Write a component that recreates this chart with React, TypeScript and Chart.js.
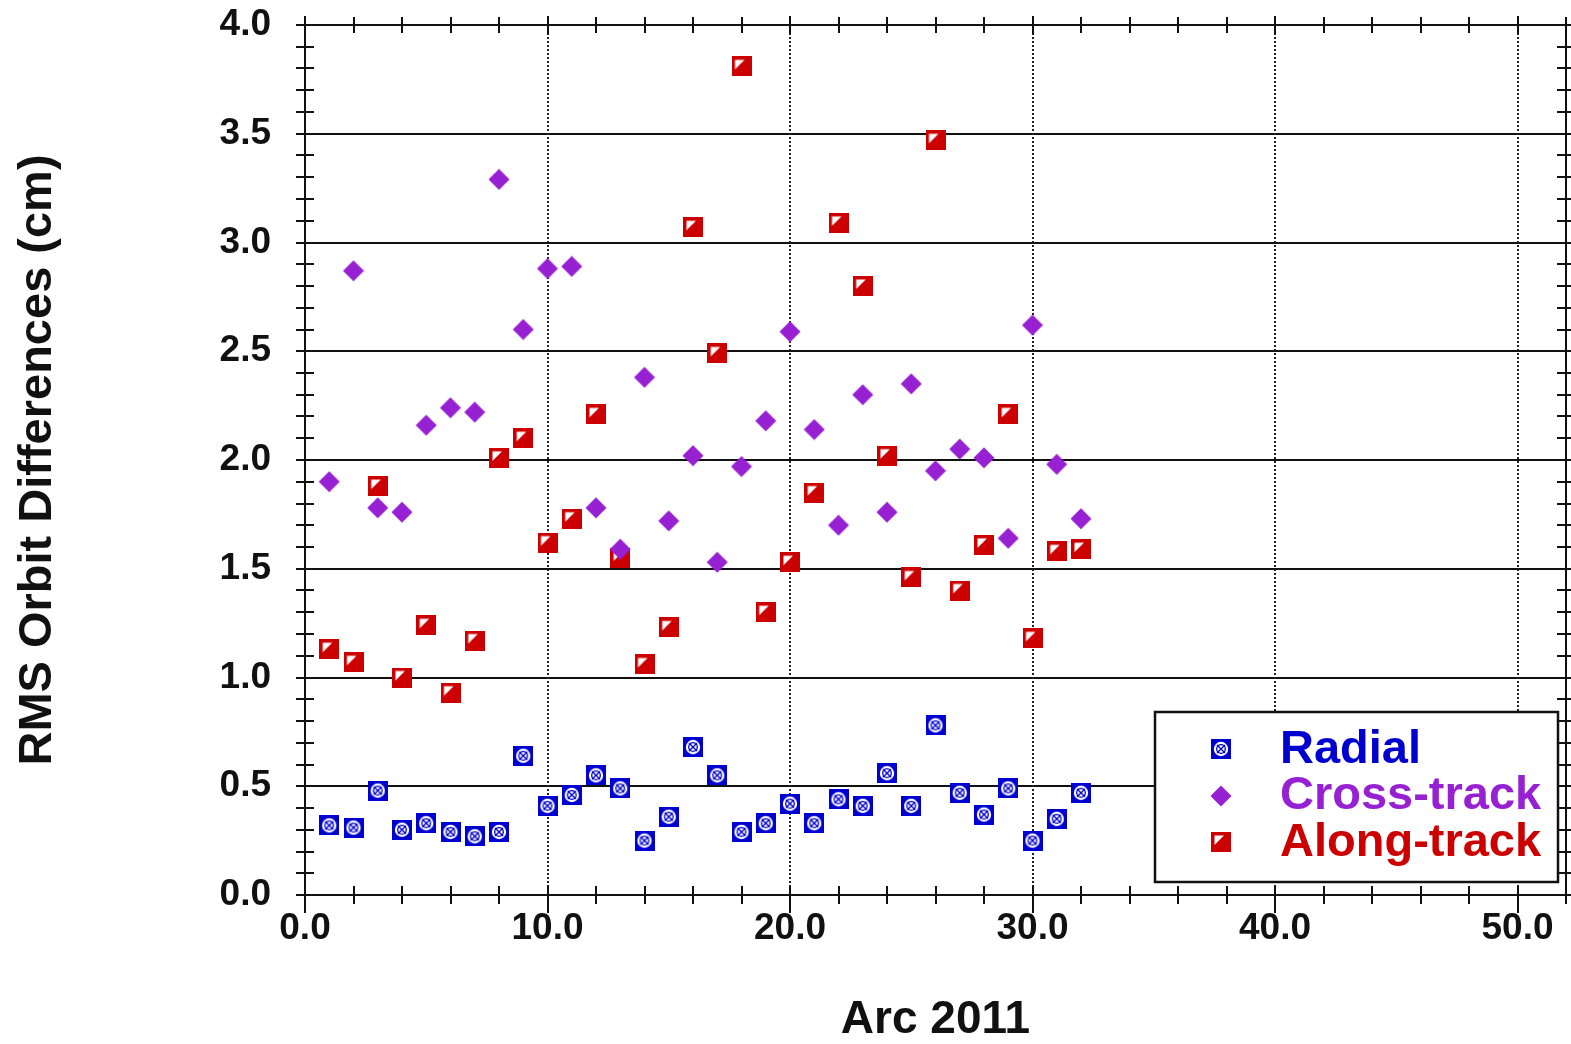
import React, { useEffect, useRef } from "react";
import { Chart, registerables } from "chart.js";

Chart.register(...registerables);

const arcs = [1, 2, 3, 4, 5, 6, 7, 8, 9, 10, 11, 12, 13, 14, 15, 16, 17, 18, 19, 20, 21, 22, 23, 24, 25, 26, 27, 28, 29, 30, 31, 32];
const radial = [0.32, 0.31, 0.48, 0.30, 0.33, 0.29, 0.27, 0.29, 0.64, 0.41, 0.46, 0.55, 0.49, 0.25, 0.36, 0.68, 0.55, 0.29, 0.33, 0.42, 0.33, 0.44, 0.41, 0.56, 0.41, 0.78, 0.47, 0.37, 0.49, 0.25, 0.35, 0.47];
const crossTrack = [1.90, 2.87, 1.78, 1.76, 2.16, 2.24, 2.22, 3.29, 2.60, 2.88, 2.89, 1.78, 1.59, 2.38, 1.72, 2.02, 1.53, 1.97, 2.18, 2.59, 2.14, 1.70, 2.30, 1.76, 2.35, 1.95, 2.05, 2.01, 1.64, 2.62, 1.98, 1.73];
const alongTrack = [1.13, 1.07, 1.88, 1.00, 1.24, 0.93, 1.17, 2.01, 2.10, 1.62, 1.73, 2.21, 1.55, 1.06, 1.23, 3.07, 2.49, 3.81, 1.30, 1.53, 1.85, 3.09, 2.80, 2.02, 1.46, 3.47, 1.40, 1.61, 2.21, 1.18, 1.58, 1.59];

const seriesLabels = ["Radial", "Cross-track", "Along-track"];
const xTicks = [0, 10, 20, 30, 40, 50];
const yTicks = [0, 0.5, 1.0, 1.5, 2.0, 2.5, 3.0, 3.5, 4.0];
const X_MIN = 0;
const X_MAX = 52;
const Y_MIN = 0;
const Y_MAX = 4;

const BLUE = "#0000d0";
const PURPLE = "#9620d2";
const RED = "#cc0000";
const INK = "#111111";
const FONT = '"Liberation Sans", Arial, Helvetica, sans-serif';

function makeRadial(color: string) {
  const s = 20;
  const c = document.createElement("canvas");
  c.width = s;
  c.height = s;
  const g = c.getContext("2d")!;
  g.fillStyle = color;
  g.fillRect(0, 0, s, s);
  g.fillStyle = "#ffffff";
  g.beginPath();
  g.arc(s / 2, s / 2, 7.2, 0, Math.PI * 2);
  g.fill();
  g.strokeStyle = color;
  g.lineWidth = 1.3;
  g.beginPath();
  g.arc(s / 2, s / 2, 4.3, 0, Math.PI * 2);
  g.stroke();
  g.beginPath();
  g.moveTo(6, 6);
  g.lineTo(14, 14);
  g.moveTo(14, 6);
  g.lineTo(6, 14);
  g.stroke();
  return c;
}

function makeDiamond(color: string) {
  const s = 22;
  const c = document.createElement("canvas");
  c.width = s;
  c.height = s;
  const g = c.getContext("2d")!;
  g.fillStyle = color;
  g.beginPath();
  g.moveTo(s / 2, 0.5);
  g.lineTo(s - 0.5, s / 2);
  g.lineTo(s / 2, s - 0.5);
  g.lineTo(0.5, s / 2);
  g.closePath();
  g.fill();
  return c;
}

function makeAlong(color: string) {
  const s = 20;
  const c = document.createElement("canvas");
  c.width = s;
  c.height = s;
  const g = c.getContext("2d")!;
  g.fillStyle = color;
  g.fillRect(0, 0, s, s);
  g.fillStyle = "#ffffff";
  g.beginPath();
  g.moveTo(3.5, 3.5);
  g.lineTo(13, 3.5);
  g.lineTo(3.5, 13);
  g.closePath();
  g.fill();
  return c;
}

const framePlugin = {
  id: "framePlugin",
  beforeDatasetsDraw(chart: any) {
    const { ctx, chartArea } = chart;
    const { left, right, top, bottom } = chartArea;
    const xs = chart.scales.x;
    const ys = chart.scales.y;
    const line = (x1: number, y1: number, x2: number, y2: number) => {
      ctx.beginPath();
      ctx.moveTo(x1, y1);
      ctx.lineTo(x2, y2);
      ctx.stroke();
    };
    ctx.save();
    // horizontal solid grid
    ctx.strokeStyle = INK;
    ctx.lineWidth = 2;
    for (const v of yTicks) {
      if (v <= Y_MIN || v >= Y_MAX) continue;
      const py = Math.round(ys.getPixelForValue(v));
      line(left, py, right, py);
    }
    // vertical dotted grid
    ctx.strokeStyle = "#222222";
    ctx.lineWidth = 2;
    ctx.setLineDash([2, 2]);
    for (const v of xTicks) {
      if (v <= X_MIN || v >= X_MAX) continue;
      const px = Math.round(xs.getPixelForValue(v));
      line(px, top, px, bottom);
    }
    ctx.setLineDash([]);
    // frame
    ctx.strokeStyle = INK;
    ctx.lineWidth = 2;
    ctx.strokeRect(left, top, right - left, bottom - top);
    // x ticks (bottom & top)
    for (let v = X_MIN; v <= X_MAX + 1e-9; v += 2) {
      const px = Math.round(xs.getPixelForValue(v));
      const major = Math.abs(v % 10) < 1e-9;
      if (major) {
        line(px, bottom - 9, px, bottom + 18);
        line(px, top - 9, px, top + 9);
      } else {
        line(px, bottom - 9, px, bottom + 9);
        line(px, top - 8, px, top + 8);
      }
    }
    // y ticks (left & right)
    for (let i = 0; i <= 40; i++) {
      const v = Y_MIN + i * 0.1;
      const py = Math.round(ys.getPixelForValue(v));
      line(left - 9, py, left + 9, py);
      line(right - 9, py, right + 9, py);
    }
    ctx.restore();
  },
};

const legendPlugin = {
  id: "boxLegend",
  afterDatasetsDraw(chart: any) {
    const { ctx, chartArea } = chart;
    const w = 403;
    const h = 170;
    const x0 = chartArea.right - 8 - w;
    const y0 = chartArea.bottom - 13 - h;
    ctx.save();
    ctx.fillStyle = "#ffffff";
    ctx.fillRect(x0, y0, w, h);
    ctx.strokeStyle = INK;
    ctx.lineWidth = 2.5;
    ctx.strokeRect(x0, y0, w, h);
    chart.data.datasets.forEach((ds: any, i: number) => {
      const cy = y0 + 37 + i * 46.5;
      const img = ds.pointStyle as HTMLCanvasElement;
      ctx.drawImage(img, Math.round(x0 + 66 - img.width / 2), Math.round(cy - img.height / 2));
      ctx.fillStyle = ds.legendColor;
      ctx.font = `bold 47px ${FONT}`;
      ctx.textBaseline = "middle";
      ctx.textAlign = "left";
      ctx.fillText(ds.label, x0 + 125, cy + 1);
    });
    ctx.restore();
  },
};

export default function App() {
  const ref = useRef<HTMLCanvasElement | null>(null);

  useEffect(() => {
    if (!ref.current) return;
    const radialImg = makeRadial(BLUE);
    const crossImg = makeDiamond(PURPLE);
    const alongImg = makeAlong(RED);

    const toPts = (vals: number[]) => arcs.map((a, i) => ({ x: a, y: vals[i] }));

    const tickFont = { family: FONT, size: 37, weight: "bold" as const };

    const chart = new Chart(ref.current, {
      type: "scatter",
      data: {
        datasets: [
          { label: seriesLabels[0], data: toPts(radial), pointStyle: radialImg, legendColor: BLUE, backgroundColor: BLUE, borderColor: BLUE } as any,
          { label: seriesLabels[1], data: toPts(crossTrack), pointStyle: crossImg, legendColor: PURPLE, backgroundColor: PURPLE, borderColor: PURPLE } as any,
          { label: seriesLabels[2], data: toPts(alongTrack), pointStyle: alongImg, legendColor: RED, backgroundColor: RED, borderColor: RED } as any,
        ],
      },
      options: {
        animation: false,
        responsive: false,
        devicePixelRatio: 1,
        layout: { padding: { left: 0, right: 3, top: 25, bottom: 0 } },
        plugins: {
          legend: { display: false },
          tooltip: { enabled: false },
        },
        scales: {
          x: {
            type: "linear",
            position: "bottom",
            min: X_MIN,
            max: X_MAX,
            afterBuildTicks: (s: any) => {
              s.ticks = xTicks.map((v) => ({ value: v }));
            },
            afterFit: (s: any) => {
              s.height = 149;
              s.paddingLeft = 0;
              s.paddingRight = 0;
              s.paddingTop = 0;
              s.paddingBottom = 0;
            },
            grid: { display: false, drawTicks: false },
            border: { display: false },
            ticks: {
              autoSkip: false,
              maxRotation: 0,
              padding: 12,
              color: INK,
              font: tickFont,
              callback: (v: any) => Number(v).toFixed(1),
            },
            title: {
              display: true,
              text: "Arc 2011",
              color: INK,
              font: { family: FONT, size: 46, weight: "bold", lineHeight: 1 },
              padding: { top: 0, bottom: 1 },
            },
          },
          y: {
            type: "linear",
            min: Y_MIN,
            max: Y_MAX,
            afterBuildTicks: (s: any) => {
              s.ticks = yTicks.map((v) => ({ value: v }));
            },
            afterFit: (s: any) => {
              s.width = 305;
              s.paddingLeft = 0;
              s.paddingRight = 0;
              s.paddingTop = 0;
              s.paddingBottom = 0;
            },
            grid: { display: false, drawTicks: false },
            border: { display: false },
            ticks: {
              autoSkip: false,
              padding: 34,
              color: INK,
              font: tickFont,
              callback: (v: any) => Number(v).toFixed(1),
            },
            title: {
              display: true,
              text: "RMS Orbit Differences (cm)",
              color: INK,
              font: { family: FONT, size: 47, weight: "bold", lineHeight: 1 },
              padding: { top: 15, bottom: 0 },
            },
          },
        },
      } as any,
      plugins: [framePlugin, legendPlugin],
    });

    return () => {
      chart.destroy();
    };
  }, []);

  return (
    <div style={{ position: "absolute", left: 0, top: 0, width: 1571, height: 1044, background: "#ffffff" }}>
      <canvas ref={ref} width={1571} height={1044} style={{ display: "block", width: 1571, height: 1044 }} />
    </div>
  );
}
